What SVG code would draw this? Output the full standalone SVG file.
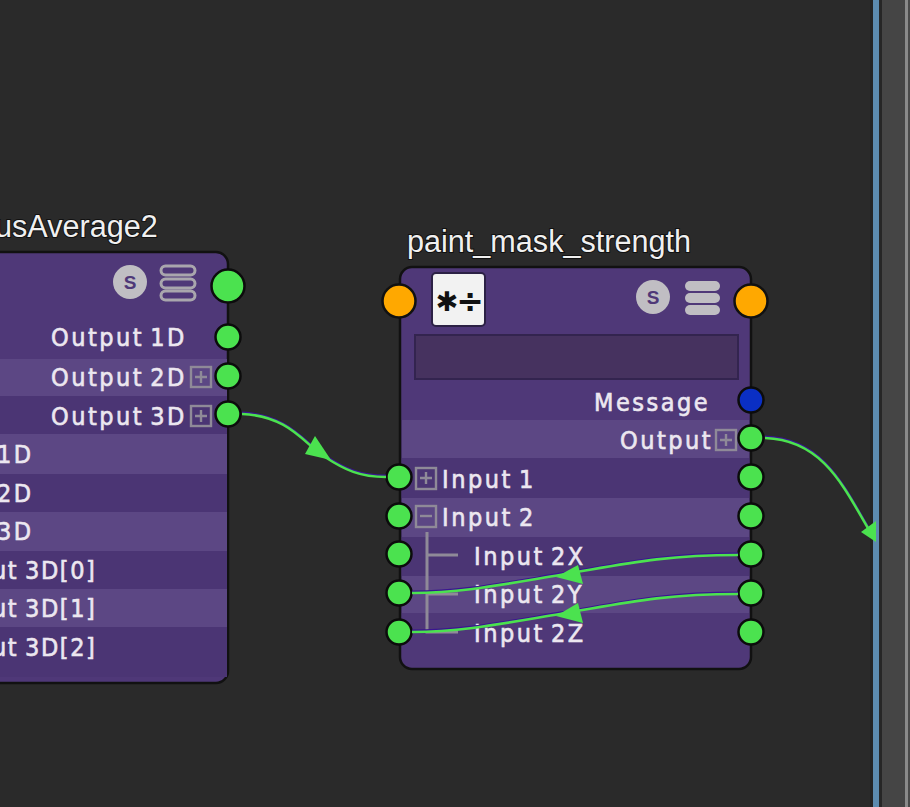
<svg xmlns="http://www.w3.org/2000/svg" width="910" height="807" viewBox="0 0 910 807">
<style>
.title{font:30.6px "Liberation Sans",Arial,sans-serif;fill:#f0f0f0;stroke:#111;stroke-width:2;paint-order:stroke}
.l{font:25px "DejaVu Sans Condensed","DejaVu Sans",sans-serif;fill:#ece7f0;letter-spacing:2.5px;word-spacing:-3.5px;stroke:#ece7f0;stroke-width:.6}
.n{letter-spacing:1.6px;word-spacing:-2px}
.body{fill:#4f3878;stroke:#111;stroke-width:2.5}
.a{fill:#5c4784}.b{fill:#4b3574}
.g{fill:#4be24f;stroke:#0c0c0c;stroke-width:2.5}
.o{fill:#ffa800;stroke:#111;stroke-width:2.5}
.box{fill:none;stroke:#8f8a98;stroke-width:2.4}
.t{fill:none;stroke:#8f8a98;stroke-width:3}
.c{fill:none;stroke:#4be24f;stroke-width:2.6}
.s{fill:none;stroke:#3a1590;stroke-width:2.4}
.h{fill:#4be24f}
.bar{fill:none;stroke:#a9a6ad;stroke-width:3}
.barf{fill:#c0bec3}
.sl{font:bold 19px "Liberation Sans",sans-serif;fill:#4f3878}
</style>
<rect width="910" height="807" fill="#2a2a2a"/>
<rect x="870" width="3" height="807" fill="#232323"/>
<rect x="873" width="6" height="807" fill="#5c8aae"/>
<rect x="879" width="3" height="807" fill="#262626"/>
<rect x="882" width="23" height="807" fill="#454545"/>
<rect x="905" width="3" height="807" fill="#8a8a8a"/>
<rect x="908" width="2" height="807" fill="#4a4a4a"/>
<g id="plusMinusAverage2">
<text class="title" x="-5" y="237">usAverage2</text>
<rect class="body" x="-30" y="252" width="258" height="431" rx="12"/>
<rect class="a" x="-28" y="359" width="255" height="37"/>
<rect class="b" x="-28" y="396" width="255" height="38"/>
<rect class="a" x="-28" y="434" width="255" height="40"/>
<rect class="b" x="-28" y="474" width="255" height="38"/>
<rect class="a" x="-28" y="512" width="255" height="39"/>
<rect class="b" x="-28" y="551" width="255" height="38"/>
<rect class="a" x="-28" y="589" width="255" height="38"/>
<rect class="b" x="-28" y="627" width="255" height="50"/>
<circle class="barf" cx="130" cy="282" r="17"/>
<text class="sl" x="130" y="289" text-anchor="middle">S</text>
<rect class="bar" x="161" y="266" width="34" height="9" rx="4.500"/>
<rect class="bar" x="161" y="279" width="34" height="9" rx="4.500"/>
<rect class="bar" x="161" y="291" width="34" height="9" rx="4.500"/>
<text class="l" x="51" y="346">Output 1D</text>
<text class="l" x="51" y="386">Output 2D</text>
<text class="l" x="51" y="425">Output 3D</text>
<text class="l" x="-3" y="463">1D</text>
<text class="l" x="-3" y="502">2D</text>
<text class="l" x="-3" y="540">3D</text>
<text class="l n" x="-8" y="579">ut 3D[0]</text>
<text class="l n" x="-8" y="617">ut 3D[1]</text>
<text class="l n" x="-8" y="656">ut 3D[2]</text>
<rect class="box" x="191" y="367" width="20" height="20"/><path class="box" d="M195 377h12M201 371v12"/>
<rect class="box" x="191" y="406" width="20" height="20"/><path class="box" d="M195 416h12M201 410v12"/>
<circle class="g" cx="228" cy="286" r="16.500"/>
<circle class="g" cx="228" cy="337" r="12.500"/>
<circle class="g" cx="228" cy="376" r="12.500"/>
<circle class="g" cx="228" cy="414" r="12.500"/>
</g>
<g id="paint_mask_strength">
<text class="title" x="407" y="252">paint_mask_strength</text>
<rect class="body" x="400" y="267" width="351" height="402" rx="12"/>
<rect class="a" x="402" y="420" width="347" height="38"/>
<rect class="b" x="402" y="458" width="347" height="40"/>
<rect class="a" x="402" y="498" width="347" height="39"/>
<rect class="b" x="402" y="537" width="347" height="39"/>
<rect class="a" x="402" y="576" width="347" height="37"/>
<rect x="415" y="335" width="323" height="44" fill="#46325f" stroke="#33244f" stroke-width="2"/>
<rect x="432" y="273" width="53" height="53" rx="4" fill="#f2f2f2" stroke="#2c2145" stroke-width="2"/>
<text x="447" y="311" text-anchor="middle" style="font:bold 27px 'DejaVu Sans',sans-serif;fill:#111">✱</text>
<text x="470" y="312" text-anchor="middle" style="font:bold 33px 'DejaVu Sans',sans-serif;fill:#111">÷</text>
<circle class="barf" cx="653" cy="297" r="17"/>
<text class="sl" x="653" y="304" text-anchor="middle">S</text>
<rect class="barf" x="685" y="281" width="35" height="10" rx="5"/>
<rect class="barf" x="685" y="293" width="35" height="10" rx="5"/>
<rect class="barf" x="685" y="305" width="35" height="10" rx="5"/>
<text class="l" x="594" y="411">Message</text>
<text class="l" x="620" y="449">Output</text>
<rect class="box" x="716" y="430" width="20" height="20"/><path class="box" d="M720 440h12M726 434v12"/>
<text class="l" x="442" y="488">Input 1</text>
<text class="l" x="442" y="526">Input 2</text>
<text class="l" x="474" y="565">Input 2X</text>
<text class="l" x="474" y="603">Input 2Y</text>
<text class="l" x="474" y="642">Input 2Z</text>
<rect class="box" x="416" y="468" width="20" height="21"/><path class="box" d="M420 478h12M426 472v12"/>
<rect class="box" x="416" y="506" width="20" height="21"/><path class="box" d="M420 516h12"/>
<path class="t" d="M427 532V632H458M427 555H458M427 594H458"/>
<circle class="o" cx="399" cy="301" r="16.500"/>
<circle class="o" cx="751" cy="301" r="16.500"/>
<circle cx="751" cy="400" r="12.500" fill="#0a2fc4" stroke="#0c0c0c" stroke-width="2.500"/>
<circle class="g" cx="751" cy="438" r="12.500"/>
<circle class="g" cx="399" cy="477" r="12.500"/>
<circle class="g" cx="751" cy="477" r="12.500"/>
<circle class="g" cx="399" cy="516" r="12.500"/>
<circle class="g" cx="751" cy="516" r="12.500"/>
<circle class="g" cx="399" cy="554" r="12.500"/>
<circle class="g" cx="751" cy="554" r="12.500"/>
<circle class="g" cx="399" cy="593" r="12.500"/>
<circle class="g" cx="751" cy="593" r="12.500"/>
<circle class="g" cx="399" cy="632" r="12.500"/>
<circle class="g" cx="751" cy="632" r="12.500"/>
</g>
<g id="connectors">
<path class="s" d="M242 412.800C290 414.800 305 443.800 325 455.800C345 468.800 360 475.800 386 475.800"/>
<path class="c" d="M242 414C290 416 305 445 325 457C345 470 360 477 386 477"/>
<path class="h" d="M315 436L331 460L305 454Z"/>
<path class="s" d="M765 436.800C825 438.800 845 488.800 872 533.800"/>
<path class="c" d="M765 438C825 440 845 490 872 535"/>
<path class="h" d="M876 521V542L861 532Z"/>
<path class="s" d="M738 553.800C660 553.800 620 563.800 560 573.800C500 583.800 460 591.800 412 591.800"/>
<path class="c" d="M738 555C660 555 620 565 560 575C500 585 460 593 412 593"/>
<path class="h" d="M578 565L583 584L556 577Z"/>
<path class="s" d="M738 592.800C660 592.800 620 602.800 560 612.800C500 622.800 460 630.800 412 630.800"/>
<path class="c" d="M738 594C660 594 620 604 560 614C500 624 460 632 412 632"/>
<path class="h" d="M578 603L583 623L556 616Z"/>
</g>
</svg>
